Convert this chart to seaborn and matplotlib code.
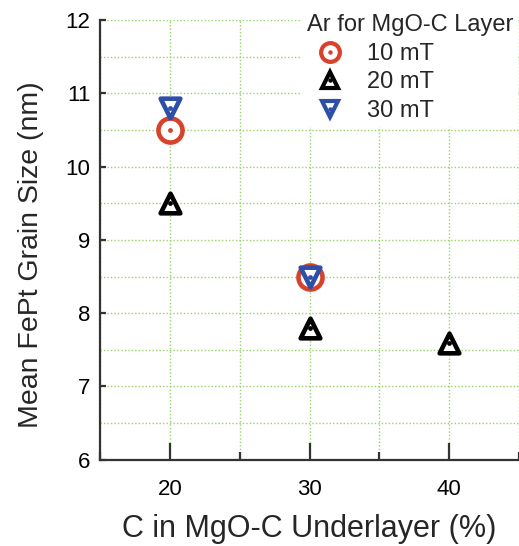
import matplotlib
matplotlib.use("Agg")
import matplotlib.pyplot as plt
import seaborn as sns
import pandas as pd
from matplotlib.lines import Line2D
from matplotlib.legend_handler import HandlerTuple
from matplotlib.ticker import MultipleLocator

sns.set_style("white")
plt.rcParams['font.family'] = ['Liberation Sans', 'DejaVu Sans']

series_labels = ["10 mT", "20 mT", "30 mT"]
x_10 = [20, 30]
y_10 = [10.5, 8.5]
x_20 = [20, 30, 40]
y_20 = [9.5, 7.8, 7.6]
x_30 = [20, 30]
y_30 = [10.8, 8.5]

xs = [x_10, x_20, x_30]
ys = [y_10, y_20, y_30]
colors = ["#d8412a", "#000000", "#2e4fa8"]
markers = ["o", "^", "v"]
sizes = [300, 200, 200]
leg_ms = [13.5, 11.0, 11.0]

fig = plt.figure(figsize=(5.19, 5.46), dpi=100)
ax = fig.add_axes([0.193, 0.158, 0.807, 0.805])

order = [1, 0, 2]
handles = {}
for i in order:
    df = pd.DataFrame({"x": xs[i], "y": ys[i]})
    sns.scatterplot(data=df, x="x", y="y", ax=ax, marker=markers[i], s=sizes[i],
                    fc="white", ec=colors[i], linewidth=3.3, zorder=3 + i)
    sns.scatterplot(data=df, x="x", y="y", ax=ax, marker="o", s=12,
                    fc=colors[i], ec=colors[i], linewidth=0, zorder=3.5 + i)
for i in range(3):
    h1 = Line2D([], [], ls="", marker=markers[i], ms=leg_ms[i],
                mfc="white", mec=colors[i], mew=3.0)
    h2 = Line2D([], [], ls="", marker="o", ms=3.2, mfc=colors[i], mec=colors[i], mew=0)
    handles[i] = (h1, h2)

ax.set_xlim(15, 45)
ax.set_ylim(6, 12)
ax.xaxis.set_major_locator(MultipleLocator(10))
ax.xaxis.set_minor_locator(MultipleLocator(5))
ax.yaxis.set_major_locator(MultipleLocator(1))
ax.yaxis.set_minor_locator(MultipleLocator(0.5))

grid_kw = dict(color="#9ad26a", linestyle=(0, (1, 1.5)), linewidth=1.0)
ax.grid(True, which="both", **grid_kw)
ax.set_axisbelow(True)

for s in ["top", "right"]:
    ax.spines[s].set_visible(False)
for s in ["left", "bottom"]:
    ax.spines[s].set_color("#333333")
    ax.spines[s].set_linewidth(1.6)

ax.tick_params(axis="x", which="major", direction="in", length=12, width=1.6,
               labelsize=16, pad=14, colors="#333333", labelcolor="black")
ax.tick_params(axis="x", which="minor", direction="in", length=6, width=1.6,
               colors="#333333")
ax.tick_params(axis="y", which="major", direction="in", length=4, width=1.6,
               labelsize=16, pad=7, colors="#333333", labelcolor="black")
ax.tick_params(axis="y", which="minor", direction="in", length=0, width=0)
ax.tick_params(bottom=True, left=True, which="both")

ax.set_xlabel("C in MgO-C Underlayer (%)", fontsize=22, labelpad=10)
ax.set_ylabel("Mean FePt Grain Size (nm)", fontsize=20.5)
ax.yaxis.set_label_coords(-0.134, 0.466)

leg = ax.legend([handles[0], handles[1], handles[2]], series_labels,
                handler_map={tuple: HandlerTuple(ndivide=1)},
                title="Ar for MgO-C Layer", title_fontsize=17, fontsize=17,
                loc="upper right", bbox_to_anchor=(1.008, 1.035), frameon=True,
                facecolor="white", edgecolor="white", framealpha=1.0,
                handlelength=2.0, handletextpad=0.55, labelspacing=0.28,
                borderpad=0.2, borderaxespad=0.2, alignment="left")
leg.get_frame().set_linewidth(0)
leg.set_zorder(10)

fig.savefig("out.png", dpi=100)
